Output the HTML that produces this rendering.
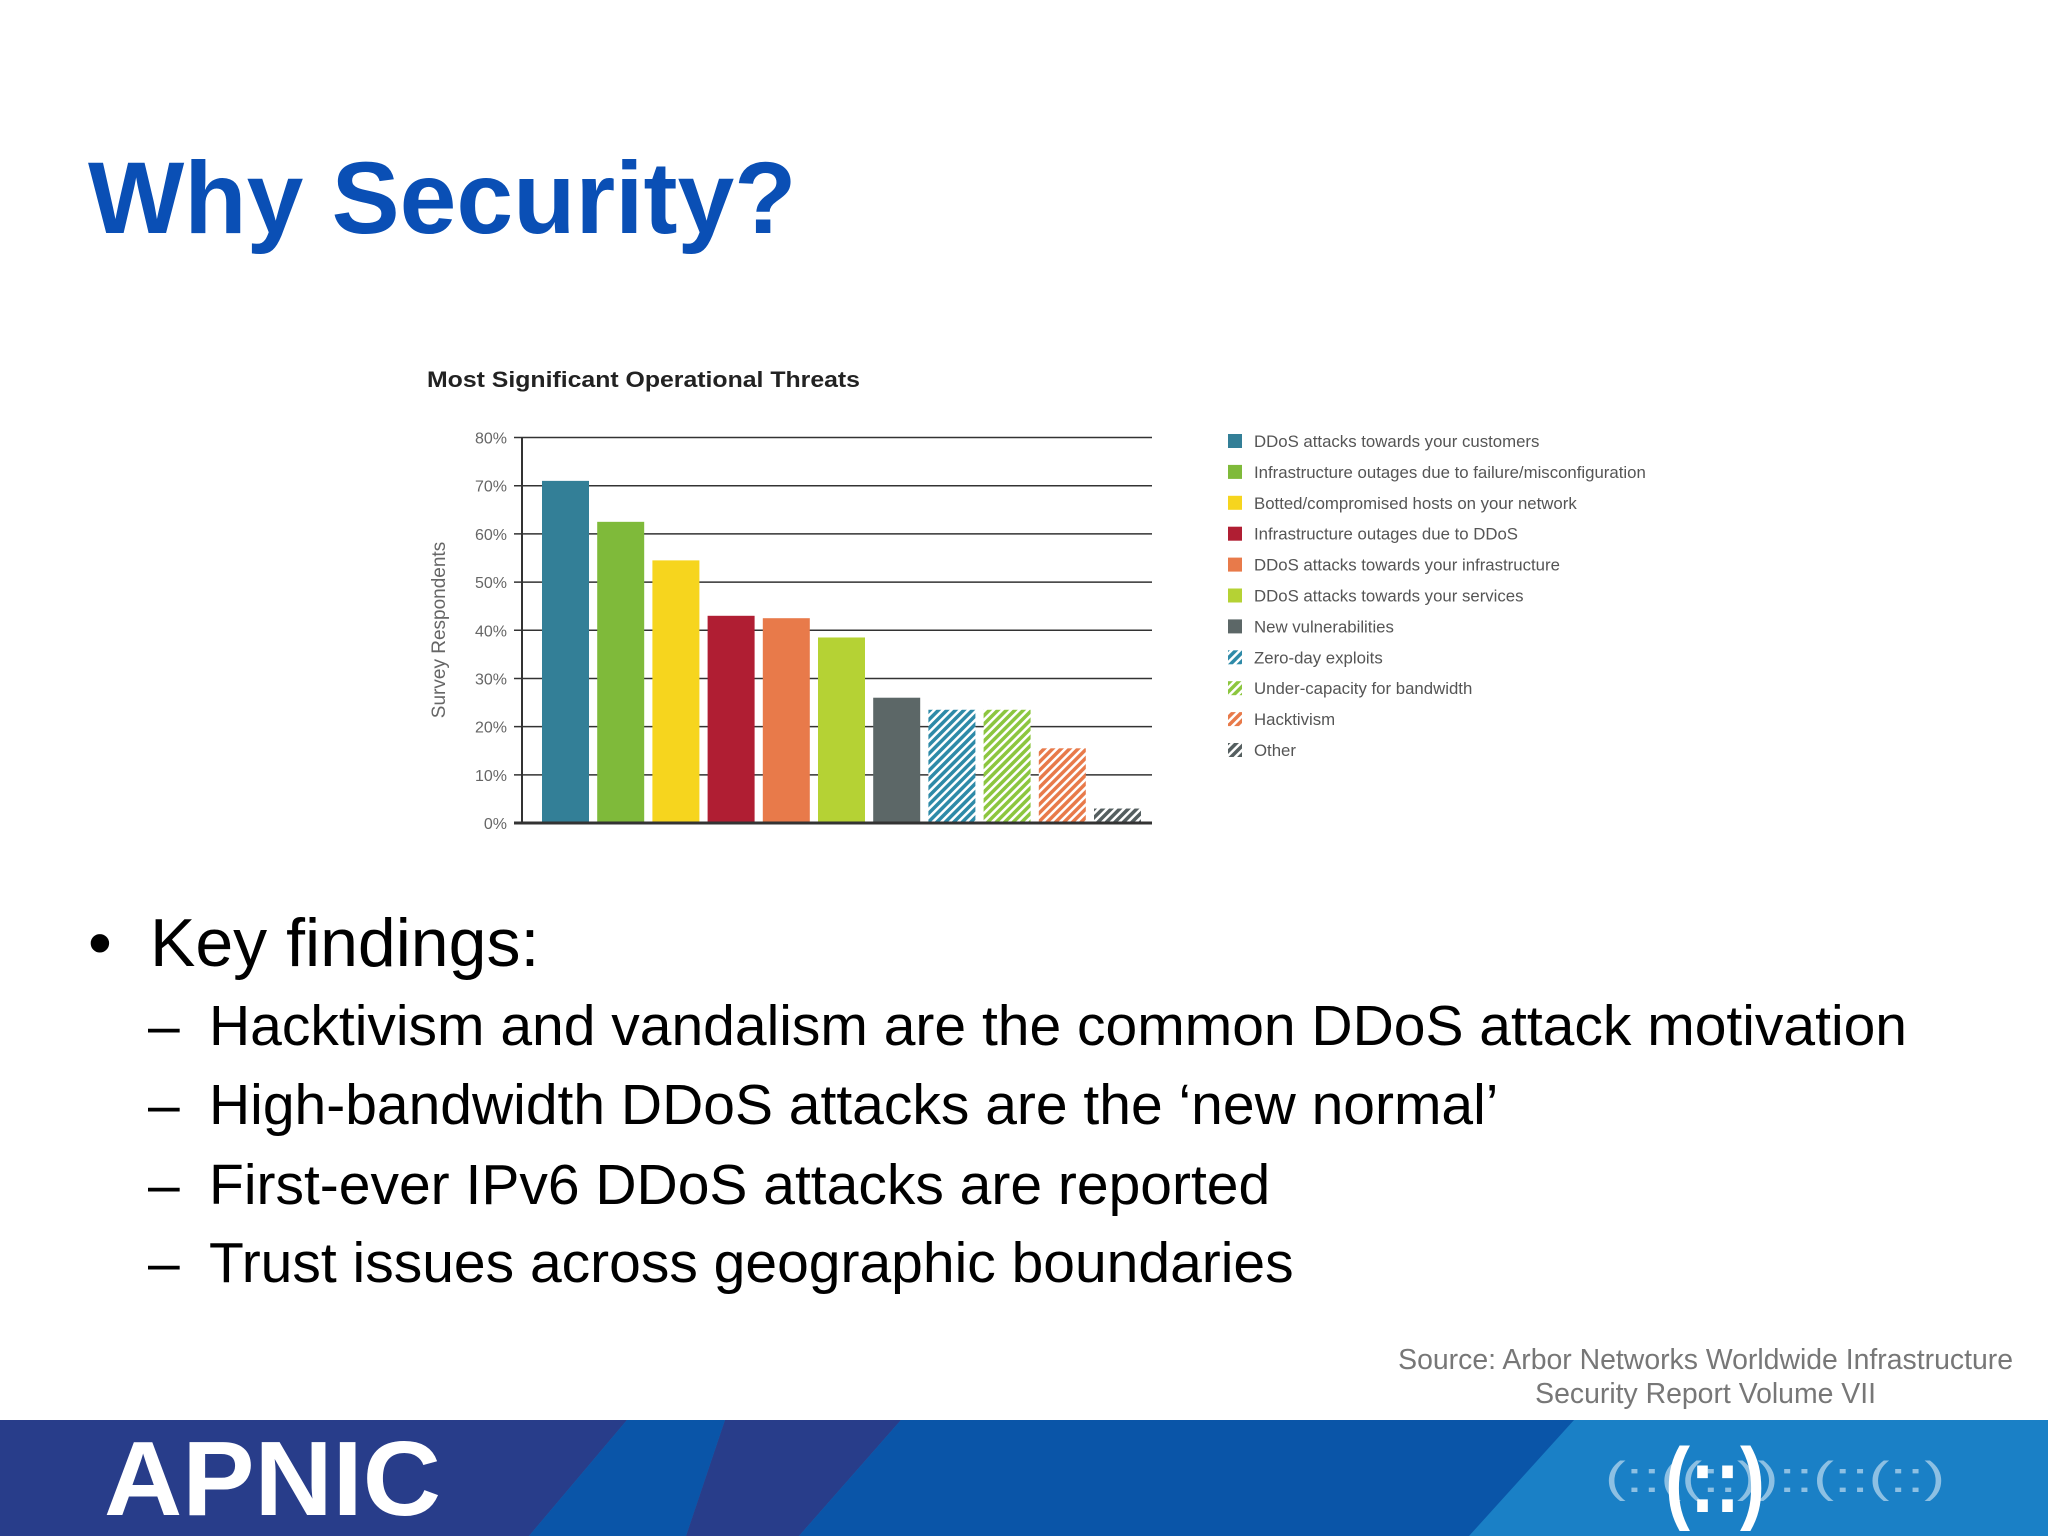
<!DOCTYPE html>
<html><head><meta charset="utf-8"><style>
body{margin:0;width:2048px;height:1536px;position:relative;background:#fff;font-family:"Liberation Sans",Arial,sans-serif;overflow:hidden}
.abs{position:absolute;white-space:nowrap}
</style></head><body>
<div class="abs" style="left:88px;top:147px;font-size:102px;font-weight:bold;color:#0a4fb5;line-height:1">Why Security?</div>

<svg class="abs" style="left:0;top:0" width="2048" height="900">
<defs>
<pattern id="h-teal" width="6" height="6" patternUnits="userSpaceOnUse" patternTransform="rotate(45)"><rect width="6" height="6" fill="#fff"/><rect width="3.5" height="6" fill="#2e8aa8"/></pattern>
<pattern id="h-green" width="6" height="6" patternUnits="userSpaceOnUse" patternTransform="rotate(45)"><rect width="6" height="6" fill="#fff"/><rect width="3.5" height="6" fill="#8cc63f"/></pattern>
<pattern id="h-orange" width="6" height="6" patternUnits="userSpaceOnUse" patternTransform="rotate(45)"><rect width="6" height="6" fill="#fff"/><rect width="3.5" height="6" fill="#e87a4a"/></pattern>
<pattern id="h-gray" width="6" height="6" patternUnits="userSpaceOnUse" patternTransform="rotate(45)"><rect width="6" height="6" fill="#fff"/><rect width="3.5" height="6" fill="#555f60"/></pattern>
</defs>
<g id="chart-root"></g>
</svg>

<div class="abs" style="left:88px;top:905px;font-size:68px;color:#000;line-height:76px"><span style="display:inline-block;width:62px">•</span>Key findings:</div>
<div class="abs" style="left:148px;top:994px;font-size:57px;line-height:64px"><span style="display:inline-block;width:61px">–</span>Hacktivism and vandalism are the common DDoS attack motivation</div>
<div class="abs" style="left:148px;top:1073px;font-size:57px;line-height:64px"><span style="display:inline-block;width:61px">–</span>High-bandwidth DDoS attacks are the ‘new normal’</div>
<div class="abs" style="left:148px;top:1153px;font-size:57px;line-height:64px"><span style="display:inline-block;width:61px">–</span>First-ever IPv6 DDoS attacks are reported</div>
<div class="abs" style="left:148px;top:1231px;font-size:57px;line-height:64px"><span style="display:inline-block;width:61px">–</span>Trust issues across geographic boundaries</div>

<div class="abs" style="right:35px;top:1343px;font-size:28.4px;color:#777;text-align:center;line-height:34px">Source: Arbor Networks Worldwide Infrastructure<br>Security Report Volume VII</div>

<svg class="abs" style="left:0;top:1420px" width="2048" height="116">
<rect width="2048" height="116" fill="#1a80c6"/>
<polygon points="0,0 627,0 529,116 0,116" fill="#283d8a"/>
<polygon points="627,0 725,0 686,116 529,116" fill="#0a55a8"/>
<polygon points="725,0 901,0 799,116 686,116" fill="#283d8a"/>
<polygon points="901,0 1574,0 1469,116 799,116" fill="#0a55a8"/>
<text x="104" y="95" font-size="106" font-weight="bold" fill="#fff" font-family="Liberation Sans Narrow, Liberation Sans, sans-serif" textLength="337" lengthAdjust="spacingAndGlyphs">APNIC</text>
<text x="1605" y="72" font-size="44" fill="#fff" fill-opacity="0.5" textLength="340" lengthAdjust="spacingAndGlyphs">(::((::))::(::(::)</text>
<text x="1665" y="92" font-size="92" font-weight="bold" fill="#fff" textLength="100" lengthAdjust="spacingAndGlyphs">(::)</text>
</svg>

<script>
const categories=["DDoS attacks towards your customers","Infrastructure outages due to failure/misconfiguration","Botted/compromised hosts on your network","Infrastructure outages due to DDoS","DDoS attacks towards your infrastructure","DDoS attacks towards your services","New vulnerabilities","Zero-day exploits","Under-capacity for bandwidth","Hacktivism","Other"];
const values=[71,62.5,54.5,43,42.5,38.5,26,23.5,23.5,15.5,3];
const fills=["#337f97","#7fba3a","#f6d51e","#b01e33","#e87a4a","#b5d234","#5c6767","url(#h-teal)","url(#h-green)","url(#h-orange)","url(#h-gray)"];
const ticks=[0,10,20,30,40,50,60,70,80];
const tickLabels=["0%","10%","20%","30%","40%","50%","60%","70%","80%"];

const NS="http://www.w3.org/2000/svg";
const root=document.getElementById('chart-root');
const X0=522,X1=1152,Y0=823,Y80=437.5;
const y=v=>Y0-(v/80)*(Y0-Y80);
const bx=i=>542+i*55.2;
function mk(t,a){const e=document.createElementNS(NS,t);for(const k in a)e.setAttribute(k,a[k]);root.appendChild(e);return e;}
let t=mk('text',{x:427,y:387,'font-size':22.5,'font-weight':'bold',fill:'#222',textLength:433,lengthAdjust:'spacingAndGlyphs'});t.textContent='Most Significant Operational Threats';


ticks.forEach((v,i)=>{
 const l=mk('line',{x1:X0-8,x2:X1,y1:y(v),y2:y(v),stroke:'#333','stroke-width':v===0?3:1.5});
 
 
 const tl=mk('text',{x:507,y:y(v)+6,'font-size':16,fill:'#666','text-anchor':'end'});tl.textContent=tickLabels[i];
 
 
});
const ax=mk('line',{x1:X0,x2:X0,y1:Y80,y2:Y0,stroke:'#333','stroke-width':2});


const yt=mk('text',{x:0,y:0,'font-size':19,fill:'#666','text-anchor':'middle',transform:'translate(445,630) rotate(-90)'});yt.textContent='Survey Respondents';


values.forEach((v,i)=>{
 const r=mk('rect',{x:bx(i),y:y(v),width:47,height:Y0-y(v)-1.5,fill:fills[i]});
 
 
 const ly=441+i*30.9;
 const s=mk('rect',{x:1228,y:ly-7,width:14,height:14,fill:fills[i]});
 
 
 const lt=mk('text',{x:1254,y:ly+6,'font-size':16.8,fill:'#555'});lt.textContent=categories[i];
 
 
});
</script>
</body></html>
